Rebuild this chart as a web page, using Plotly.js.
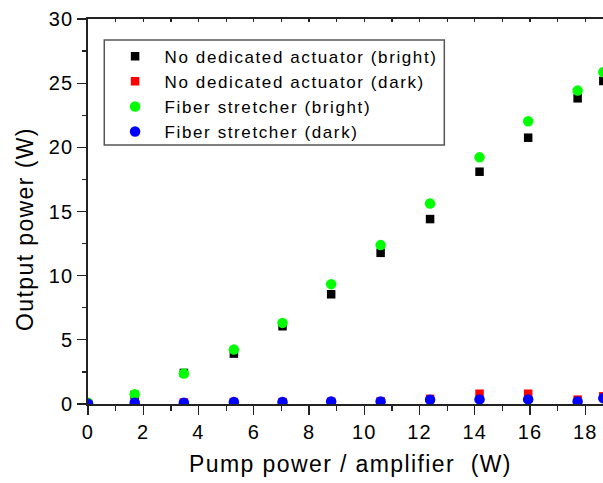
<!DOCTYPE html>
<html>
<head>
<meta charset="utf-8">
<script src="https://cdn.plot.ly/plotly-3.0.1.min.js"></script>
<style>
  html, body { margin: 0; padding: 0; overflow: hidden; background: #fff; }
  #chart { width: 660px; height: 483px; }
  .xtick text, .ytick text { letter-spacing: 1.2px; }
  .legendtext { letter-spacing: 1.6px; }
  .xtitle, .annotation-text { letter-spacing: 1.4px; }
</style>
</head>
<body>
<div id="chart"></div>
<script>
// Pump power per amplifier (W)
const pumpPower = [0, 1.69, 3.47, 5.28, 7.04, 8.80, 10.59, 12.38, 14.17, 15.93, 17.72, 18.65];
// Output power (W)
const noActuatorBright = [0, 0.70, 2.42, 3.93, 6.06, 8.55, 11.78, 14.41, 18.10, 20.75, 23.82, 25.17];
const noActuatorDark   = [0, 0.08, 0.12, 0.15, 0.15, 0.16, 0.20, 0.40, 0.80, 0.80, 0.34, 0.60];
const stretcherBright  = [0.10, 0.76, 2.37, 4.24, 6.32, 9.34, 12.38, 15.63, 19.22, 22.03, 24.42, 25.85];
const stretcherDark    = [0.02, 0.10, 0.10, 0.15, 0.15, 0.20, 0.20, 0.33, 0.36, 0.36, 0.20, 0.45];

const seriesNames = [
  'No dedicated actuator (bright)',
  'No dedicated actuator (dark)',
  'Fiber stretcher (bright)',
  'Fiber stretcher (dark)'
];
const xTitle = 'Pump power / amplifier  (W)';
const yTitle = 'Output power (W)';

const FONT = 'Arial, "Liberation Sans", sans-serif';

const traces = [
  {x: pumpPower, y: noActuatorBright, name: seriesNames[0], type: 'scatter', mode: 'markers',
   marker: {symbol: 'square', size: 8.5, color: '#000000'}},
  {x: pumpPower, y: noActuatorDark, name: seriesNames[1], type: 'scatter', mode: 'markers',
   marker: {symbol: 'square', size: 8.5, color: '#ff0000'}},
  {x: pumpPower, y: stretcherBright, name: seriesNames[2], type: 'scatter', mode: 'markers',
   marker: {symbol: 'circle', size: 10.5, color: '#00ff00'}},
  {x: pumpPower, y: stretcherDark, name: seriesNames[3], type: 'scatter', mode: 'markers',
   marker: {symbol: 'circle', size: 10.5, color: '#0000ff'}},
  {x: [], y: [], xaxis: 'x2', yaxis: 'y', showlegend: false, hoverinfo: 'skip', type: 'scatter'}
];

const layout = {
  width: 660,
  height: 483,
  margin: {l: 88, r: 47, t: 19, b: 79},
  paper_bgcolor: '#ffffff',
  plot_bgcolor: '#ffffff',
  font: {family: FONT, color: '#000000', size: 20},
  showlegend: true,
  legend: {
    x: 0.0335, y: 0.9488, xanchor: 'left', yanchor: 'top',
    bgcolor: 'rgba(0,0,0,0)', borderwidth: 0,
    font: {family: FONT, size: 17, color: '#000000'},
    itemwidth: 49,
    traceorder: 'normal'
  },
  shapes: [{
    type: 'rect', xref: 'paper', yref: 'paper',
    x0: 0.031, x1: 0.6787, y0: 0.6727, y1: 0.9455,
    line: {color: '#555555', width: 1.5},
    fillcolor: 'rgba(0,0,0,0)',
    layer: 'above'
  }],
  xaxis: {
    range: [0, 19],
    dtick: 2, tick0: 0,
    ticks: 'outside', ticklen: 9, tickwidth: 1.3, tickcolor: '#222222',
    minor: {dtick: 1, ticks: 'outside', ticklen: 5, tickwidth: 1.3, tickcolor: '#222222'},
    showline: true, linecolor: '#222222', linewidth: 1.6,
    showgrid: false, zeroline: false,
    tickfont: {family: FONT, size: 20, color: '#000000'},
    title: {text: xTitle, font: {family: FONT, size: 23, color: '#000000'}, standoff: 14}
  },
  xaxis2: {
    range: [0, 19],
    overlaying: 'x', side: 'top', anchor: 'y',
    dtick: 1, tick0: 0,
    ticks: 'inside', ticklen: 3, tickwidth: 1.3, tickcolor: '#222222',
    showticklabels: false,
    showline: true, linecolor: '#222222', linewidth: 1.6,
    showgrid: false, zeroline: false
  },
  yaxis: {
    range: [0, 30],
    dtick: 5, tick0: 0,
    ticks: 'outside', ticklen: 9, tickwidth: 1.3, tickcolor: '#222222',
    minor: {dtick: 2.5, ticks: 'outside', ticklen: 4, tickwidth: 1.3, tickcolor: '#222222'},
    showline: true, linecolor: '#222222', linewidth: 1.6,
    showgrid: false, zeroline: false,
    tickfont: {family: FONT, size: 20, color: '#000000'}
  },
  annotations: [{
    text: yTitle,
    xref: 'paper', yref: 'paper',
    x: -0.12, y: 0.4545,
    xanchor: 'center', yanchor: 'middle',
    textangle: -90,
    showarrow: false,
    font: {family: FONT, size: 23, color: '#000000'}
  }]
};

Plotly.newPlot('chart', traces, layout, {displayModeBar: false, staticPlot: true});
</script>
</body>
</html>
